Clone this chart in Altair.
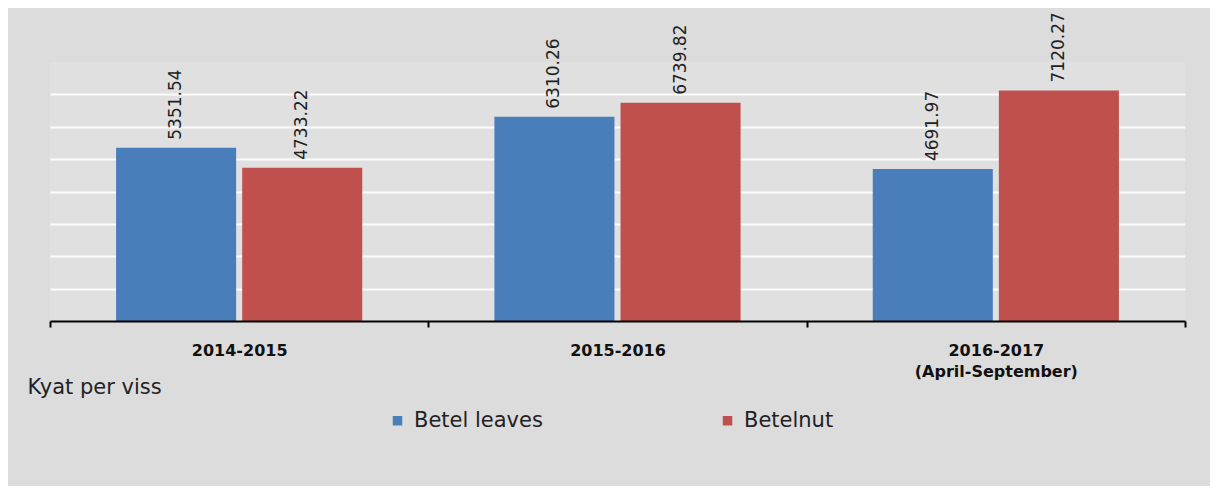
import altair as alt
import pandas as pd

periods = ["2014-2015", "2015-2016", "2016-2017\n(April-September)"]
series = ["Betel leaves", "Betelnut"]
betel_leaves = [5351.54, 6310.26, 4691.97]
betelnut = [4733.22, 6739.82, 7120.27]
colors = ["#4a7ebb", "#c0504d"]
grid_values = [1000, 2000, 3000, 4000, 5000, 6000, 7000]

rows = []
for i, p in enumerate(periods):
    rows.append({"period": p, "series": series[0], "value": betel_leaves[i]})
    rows.append({"period": p, "series": series[1], "value": betelnut[i]})
df = pd.DataFrame(rows)
df["label"] = df["value"].map(lambda v: f"{v:.2f}")

W, H = 1135, 259
FONT = "DejaVu Sans"

x_enc = alt.X(
    "period:N",
    sort=periods,
    scale=alt.Scale(paddingInner=0, paddingOuter=0),
    axis=alt.Axis(
        title="Kyat per viss",
        titleX=-23,
        titleY=66,
        titleAlign="left",
        titleBaseline="middle",
        titleAnchor="start",
        titleFont=FONT,
        titleFontSize=21,
        titleFontWeight="normal",
        titleColor="#222222",
        labelExpr="split(datum.label, '\\n')",
        labelAngle=0,
        labelFont=FONT,
        labelFontSize=16,
        labelFontWeight="bold",
        labelColor="#111111",
        labelPadding=15,
        labelLineHeight=21,
        labelBaseline="top",
        tickBand="extent",
        tickSize=6,
        tickWidth=2,
        tickColor="#000000",
        domainColor="#000000",
        domainWidth=2,
        grid=False,
        zindex=1,
    ),
)

y_enc = alt.Y(
    "value:Q",
    scale=alt.Scale(domain=[0, 8000], nice=False),
    axis=alt.Axis(
        title=None,
        labels=False,
        ticks=False,
        domain=False,
        grid=True,
        values=grid_values,
        gridColor="#ffffff",
        gridWidth=2,
        gridOpacity=0.9,
    ),
)

xoff = alt.XOffset(
    "series:N",
    sort=series,
    scale=alt.Scale(paddingInner=0.048, paddingOuter=0.524),
)

base = alt.Chart(df).encode(x=x_enc, xOffset=xoff)

bars = base.mark_bar().encode(
    y=y_enc,
    color=alt.Color(
        "series:N",
        sort=series,
        scale=alt.Scale(domain=series, range=colors),
        legend=alt.Legend(
            title=None,
            orient="none",
            legendX=337,
            legendY=348,
            direction="horizontal",
            columns=2,
            columnPadding=174,
            symbolType="square",
            symbolSize=90,
            symbolStrokeWidth=0,
            labelFont=FONT,
            labelFontSize=21,
            labelColor="#222222",
            labelOffset=6,
            padding=0,
        ),
    ),
)

labels = base.mark_text(
    angle=270,
    align="left",
    baseline="middle",
    dx=8,
    font=FONT,
    fontSize=17,
    color="#222222",
).encode(y=alt.Y("value:Q"), text="label:N")

chart = (
    alt.layer(bars, labels)
    .properties(
        width=W,
        height=H,
        autosize=alt.AutoSizeParams(type="none"),
        padding={"left": 42, "top": 54, "right": 25, "bottom": 165},
    )
    .configure(background="#dcdcdc")
    .configure_view(stroke=None, fill="#e0e0e0")
)

chart.save("out.html", embed_options={"renderer": "svg", "actions": False})
